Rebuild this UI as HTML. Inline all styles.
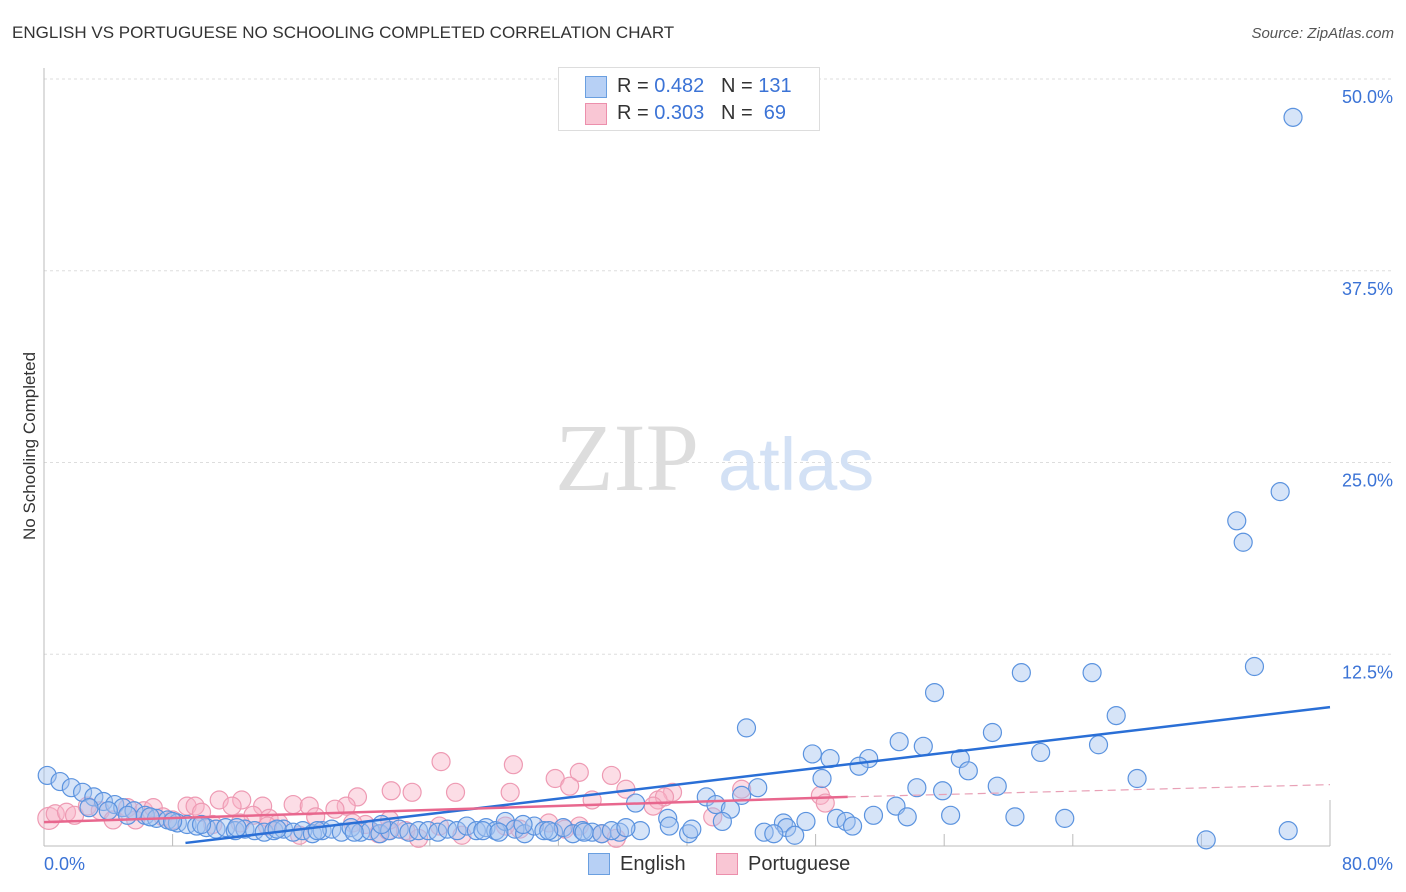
<!DOCTYPE html>
<html><head><meta charset="utf-8"><style>
body{margin:0;background:#fff;font-family:"Liberation Sans",sans-serif}
#c{position:relative;width:1406px;height:892px}
.t{position:absolute;white-space:nowrap}
</style></head><body>
<div id="c">
<div class="t" style="left:12px;top:23px;font-size:17px;color:#333">ENGLISH VS PORTUGUESE NO SCHOOLING COMPLETED CORRELATION CHART</div>
<div class="t" style="right:12px;top:25px;font-size:15px;color:#555;font-style:italic">Source: ZipAtlas.com</div>
<div class="t" style="left:-55px;top:445px;font-size:17px;color:#333;transform:rotate(-90deg);width:170px;text-align:center">No Schooling Completed</div>
<svg id="s" width="1406" height="892" style="position:absolute;left:0;top:0"></svg>
<div style="position:absolute;left:558px;top:67px;width:260px;height:62px;border:1px solid #ddd;background:#fff;font-size:20px;color:#333">
<div style="position:absolute;left:26px;top:8px;width:20px;height:20px;background:#b7d0f5;border:1px solid #6a9fe0"></div>
<div class="t" style="left:58px;top:7px">R = <span style="color:#3b73d6">0.482</span>&nbsp;&nbsp;&nbsp;N = <span style="color:#3b73d6">131</span></div>
<div style="position:absolute;left:26px;top:35px;width:20px;height:20px;background:#f9c6d4;border:1px solid #ec8fac"></div>
<div class="t" style="left:58px;top:34px">R = <span style="color:#3b73d6">0.303</span>&nbsp;&nbsp;&nbsp;N = &nbsp;<span style="color:#3b73d6">69</span></div>
</div>
<div>
<div style="position:absolute;left:588px;top:853px;width:20px;height:20px;background:#b7d0f5;border:1px solid #6a9fe0"></div>
<div class="t" style="left:620px;top:853px;font-size:20px;color:#333">English</div>
<div style="position:absolute;left:716px;top:853px;width:20px;height:20px;background:#f9c6d4;border:1px solid #ec8fac"></div>
<div class="t" style="left:748px;top:853px;font-size:20px;color:#333">Portuguese</div>
</div>
</div>
<script>
const yTicks=[12.5,25,37.5,50];
const yTickLabels=["12.5%","25.0%","37.5%","50.0%"];
const xTickLabels=["0.0%","80.0%"];
const engX=[77.7,74.2,74.6,76.9,75.3,60.8,65.2,55.4,66.7,43.7,59.0,53.2,54.7,65.6,47.8,62.0,48.9,51.3,50.7,57.0,57.5,48.4,68.0,54.3,55.9,59.3,44.4,43.4,41.2,41.8,42.7,36.8,53.0,51.6,53.7,56.4,60.4,63.5,49.3,49.9,50.3,47.4,46.0,46.2,44.8,45.4,46.7,42.2,38.8,38.9,40.1,40.3,72.3,77.4,37.1,35.8,
0.2,1.0,1.7,2.4,3.1,3.7,4.4,4.9,5.6,6.3,7.0,7.7,8.3,8.9,9.5,10.1,10.7,11.3,11.9,12.5,13.1,13.7,14.3,14.9,15.5,16.1,16.7,17.3,17.9,18.5,19.1,19.7,20.3,20.9,21.5,22.1,22.7,23.3,23.9,24.5,25.1,25.7,26.3,26.9,27.5,28.1,28.7,29.3,29.9,30.5,31.1,31.7,32.3,32.9,33.5,34.1,34.7,35.3,2.8,4.0,5.2,6.6,8.0,9.8,12.0,14.5,17.0,19.3,21.0,27.3,28.3,29.8,31.4,33.6,36.2];
const engY=[47.5,21.2,19.8,23.1,11.7,11.3,11.3,10.0,8.5,7.7,7.4,6.8,6.5,6.6,6.0,6.1,5.7,5.7,5.2,5.7,4.9,4.4,4.4,3.8,3.6,3.9,3.8,3.3,3.2,2.7,2.4,2.8,2.6,2.0,1.9,2.0,1.9,1.8,1.8,1.6,1.3,1.6,1.5,1.2,0.9,0.8,0.7,1.6,1.8,1.3,0.8,1.1,0.4,1.0,1.0,0.9,
4.6,4.2,3.8,3.5,3.2,2.9,2.7,2.5,2.3,2.0,1.8,1.7,1.5,1.4,1.3,1.2,1.1,1.2,1.0,1.1,1.0,0.9,1.0,1.1,0.9,1.0,0.8,1.0,1.1,0.9,1.2,0.9,1.0,0.8,1.0,1.1,0.9,1.0,1.0,0.9,1.1,1.0,1.3,1.0,1.2,1.0,1.6,1.1,0.8,1.3,1.0,0.9,1.2,0.8,1.0,0.9,0.8,1.0,2.5,2.3,2.0,1.9,1.6,1.4,1.2,1.1,1.0,0.9,1.4,1.0,0.9,1.4,1.0,0.9,1.2];
const porX=[24.7,29.2,31.8,33.3,35.3,21.6,22.9,25.6,29.0,32.7,36.2,39.1,19.5,18.8,10.9,12.3,11.7,13.6,15.5,16.5,8.9,9.4,18.1,38.2,38.6,37.9,43.4,48.3,48.6,41.6,34.1,0.3,0.7,1.4,1.9,2.7,3.5,4.3,5.2,6.2,6.8,7.4,8.0,9.8,10.5,13.0,14.0,14.6,15.9,16.9,20.0,20.8,21.4,22.5,23.3,26.0,28.7,31.4,32.4,34.7,35.6,19.2,21.5,5.7,12.2,13.9,24.6,29.6,33.3];
const porY=[5.5,5.3,4.4,4.8,4.6,3.6,3.5,3.5,3.5,3.9,3.7,3.5,3.2,2.6,3.0,3.0,2.6,2.6,2.7,2.6,2.6,2.6,2.4,3.0,3.2,2.6,3.7,3.3,2.8,1.9,3.0,1.8,2.1,2.2,2.0,2.6,2.3,1.7,2.5,2.3,2.5,1.9,1.7,2.2,1.4,2.0,1.8,1.5,0.7,1.9,1.4,0.8,1.0,1.0,0.5,0.7,1.3,1.5,1.1,0.8,0.5,1.5,1.7,1.7,1.5,1.3,1.3,1.1,1.3];
const engTrend=[8.8,0.2,80,9.05];
const porTrend=[0,1.56,50,3.2,80,4.0];
const NS="http://www.w3.org/2000/svg";
const s=document.getElementById('s');
const X=v=>44+v*(1286/80), Y=v=>846-v*15.34;
function mk(t,a){const e=document.createElementNS(NS,t);for(const k in a)e.setAttribute(k,a[k]);s.appendChild(e);return e;}
yTicks.forEach((v,i)=>{const g=mk('line',{x1:44,x2:1394,y1:Y(v),y2:Y(v),stroke:'#ddd','stroke-dasharray':'3,3'});


const t=mk('text',{x:1393,y:Y(v)+24,'text-anchor':'end','font-size':18,fill:'#3b73d6','font-family':'Liberation Sans'});t.textContent=yTickLabels[i];

});
const ax=mk('line',{x1:44,x2:1330,y1:846,y2:846,stroke:'#bbb'});


const ay=mk('line',{x1:44,x2:44,y1:68,y2:846,stroke:'#bbb'});


for(let i=1;i<=10;i++){const tk=mk('line',{x1:X(i*8),x2:X(i*8),y1:846,y2:i==10?800:834,stroke:'#bbb'});

}
const xl0=mk('text',{x:44,y:870,'font-size':18,fill:'#3b73d6','font-family':'Liberation Sans'});xl0.textContent=xTickLabels[0];


const xl1=mk('text',{x:1393,y:870,'text-anchor':'end','font-size':18,fill:'#3b73d6','font-family':'Liberation Sans'});xl1.textContent=xTickLabels[1];


const w1=mk('text',{x:555,y:490,'font-size':96,fill:'#ddd','font-family':'Liberation Serif'});w1.textContent='ZIP';


const w2=mk('text',{x:718,y:490,'font-size':74,fill:'#d3e1f5','font-family':'Liberation Sans'});w2.textContent='atlas';


porX.forEach((v,i)=>{const c=mk('circle',{cx:X(v),cy:Y(porY[i]),r:i==31?11:9,fill:'rgba(248,180,200,0.45)',stroke:'#ee9ab3','stroke-width':1.2});

});
engX.forEach((v,i)=>{const c=mk('circle',{cx:X(v),cy:Y(engY[i]),r:9,fill:'rgba(164,196,240,0.45)',stroke:'#5b93df','stroke-width':1.2});

});
const l1=mk('line',{x1:X(engTrend[0]),y1:Y(engTrend[1]),x2:X(engTrend[2]),y2:Y(engTrend[3]),stroke:'#2a6fd6','stroke-width':2.5});


const l2=mk('line',{x1:X(porTrend[0]),y1:Y(porTrend[1]),x2:X(porTrend[2]),y2:Y(porTrend[3]),stroke:'#e8678e','stroke-width':2.5});


const l3=mk('line',{x1:X(porTrend[2]),y1:Y(porTrend[3]),x2:X(porTrend[4]),y2:Y(porTrend[5]),stroke:'#e8a0b6','stroke-width':1.2,'stroke-dasharray':'8,5'});


</script>
</body></html>
